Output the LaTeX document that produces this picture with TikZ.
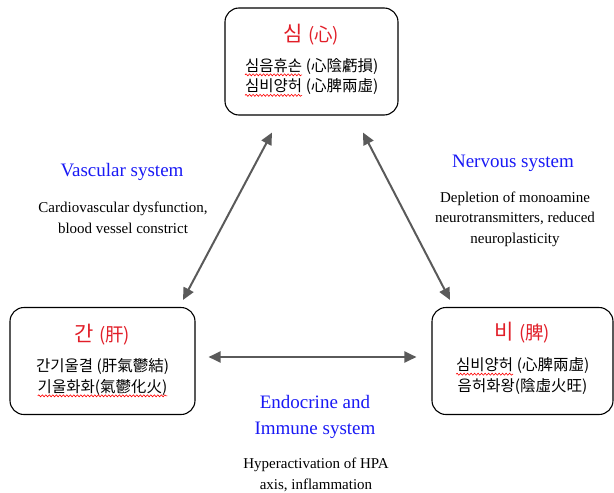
\documentclass[tikz,border=0pt]{standalone}
\usepackage{fontspec}
\setmainfont{Liberation Serif}
\newfontfamily\krfont{Noto Sans CJK KR}
\usetikzlibrary{arrows.meta,decorations.pathmorphing}
\definecolor{sysblue}{RGB}{25,25,245}
\definecolor{organred}{RGB}{225,30,40}
\definecolor{arrowgray}{RGB}{90,90,90}
% red wavy underline (spell-check marks)
\newcommand{\redwave}[1]{\tikz[baseline=(w.base)]{\node[inner sep=0pt, outer sep=0pt] (w) {#1};
    \draw[red, line width=0.6pt, decorate, decoration={snake, amplitude=1pt, segment length=3.5pt}]
        ([yshift=-3.5pt]w.base west) -- ([yshift=-3.5pt]w.base east);}}
\begin{document}
\begin{tikzpicture}[x=1pt,y=-1pt,
    organ/.style={draw, line width=1.1pt, rounded corners=14pt, minimum height=107pt},
    organtitle/.style={font=\krfont\fontsize{21}{24}\selectfont, text=organred, inner sep=0pt},
    organtext/.style={font=\krfont\fontsize{15.5}{20.5}\selectfont, align=center, inner sep=0pt},
    syshead/.style={font=\fontsize{19}{26}\selectfont, text=sysblue, align=center, inner sep=0pt},
    sysdesc/.style={font=\fontsize{15}{20.5}\selectfont, align=center, inner sep=0pt},
    biarrow/.style={{Triangle[length=12pt,width=11pt]}-{Triangle[length=12pt,width=11pt]}, line width=2pt, draw=arrowgray}]
        \useasboundingbox (0,0) rectangle (614,493);

        % Heart box
        \node[organ, minimum width=173pt] (heart) at (311.5,61.5) {};
        \node[organtitle] (heartT) at ([yshift=-27pt]heart.north) {심 {\fontsize{18.5}{20}\selectfont(心)}};
        \node[organtext] (heartB) at ([yshift=-70pt]heart.north) {\redwave{심음휴손} (心陰虧損)\\\redwave{심비양허} (心脾兩虛)};

        % Liver box
        \node[organ, minimum width=185pt] (liver) at (102.5,361) {};
        \node[organtitle] (liverT) at ([yshift=-27.5pt]liver.north) {간 {\fontsize{18.5}{20}\selectfont(肝)}};
        \node[organtext] (liverB) at ([yshift=-71pt]liver.north) {간기울결 (肝氣鬱結)\\\redwave{기울화화(氣鬱化火)}};

        % Spleen box
        \node[organ, minimum width=181pt] (spleen) at (522.5,361) {};
        \node[organtitle] (spleenT) at ([yshift=-26pt]spleen.north) {비 {\fontsize{18.5}{20}\selectfont(脾)}};
        \node[organtext] (spleenB) at ([yshift=-69pt]spleen.north) {\redwave{심비양허} (心脾兩虛)\\음허화왕(陰虛火旺)};

        % Arrows between the organs
        \draw[biarrow] ([xshift=-39.5pt,yshift=-17pt]heart.south) -- ([xshift=80.5pt,yshift=7pt]liver.north);
        \draw[biarrow] ([xshift=51.5pt,yshift=-17pt]heart.south) -- ([xshift=-72.5pt,yshift=7pt]spleen.north);
        \draw[biarrow] ([xshift=13pt,yshift=4pt]liver.east) -- ([xshift=-15pt,yshift=4pt]spleen.west);

        % System labels
        \node[syshead] (vasc) at (122,172) {Vascular system};
        \node[sysdesc] (vascD) at (123,218) {Cardiovascular dysfunction,\\blood vessel constrict};
        \node[syshead] (nerv) at (513,163) {Nervous system};
        \node[sysdesc] (nervD) at (515,219) {Depletion of monoamine\\neurotransmitters, reduced\\neuroplasticity};
        \node[syshead] (endo) at (315,416.5) {Endocrine and\\Immune system};
        \node[sysdesc] (endoD) at (316,475) {Hyperactivation of HPA\\axis, inflammation};
\end{tikzpicture}
\end{document}
